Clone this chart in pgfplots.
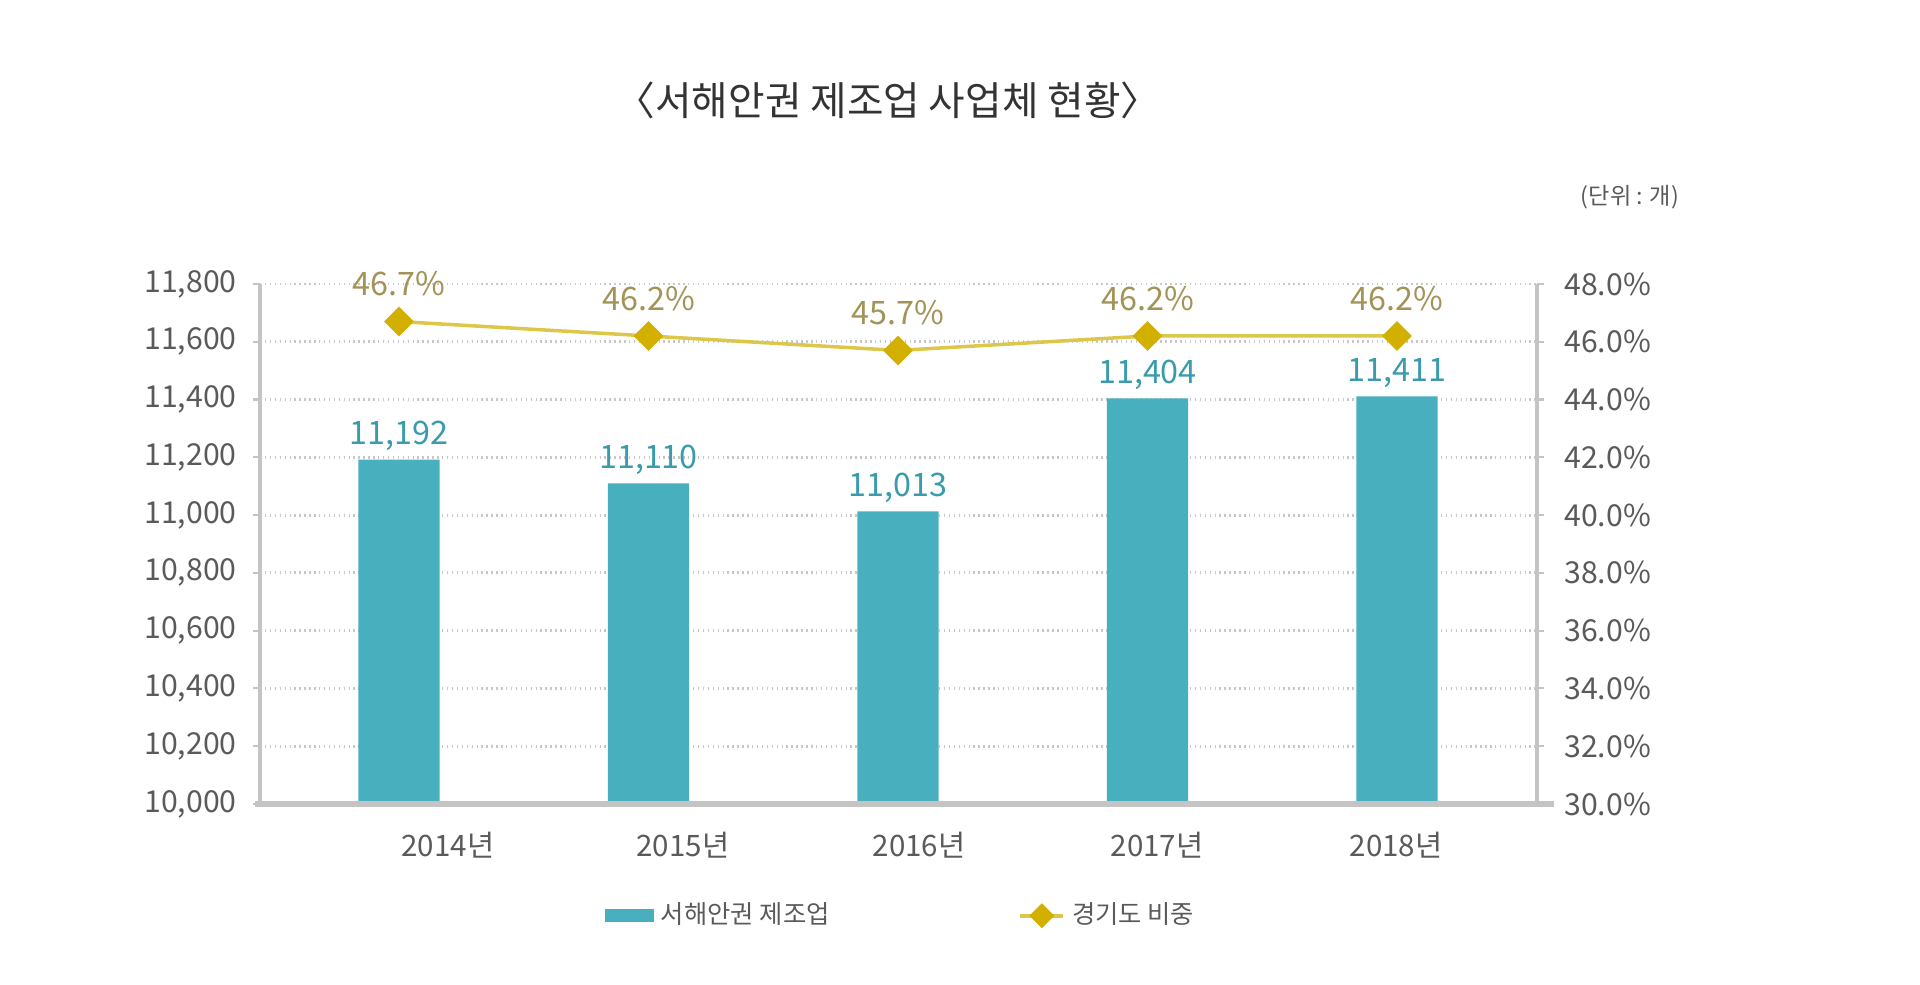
\documentclass[border=0pt]{standalone}
\usepackage{fontspec}
\setmainfont{Noto Sans CJK KR}
\usepackage{pgfplots}
\usepackage{pgfplotstable}
\pgfplotsset{compat=1.18}

\definecolor{barteal}{HTML}{48AFBF}
\definecolor{lblteal}{HTML}{3A9BAC}
\definecolor{gold}{HTML}{D3B000}
\definecolor{goldline}{HTML}{DCC74A}
\definecolor{pctlbl}{HTML}{A39358}
\definecolor{axgray}{HTML}{C4C4C4}
\definecolor{gridgray}{HTML}{C8C8C8}
\definecolor{txtgray}{HTML}{5A5A5A}

% x = category position
\pgfplotstableread{
x count share
0 11192 46.7
1 11110 46.2
2 11013 45.7
3 11404 46.2
4 11411 46.2
}\sites

\begin{document}
\begin{tikzpicture}
  \path[use as bounding box] (0,0) rectangle (19.2cm,9.85cm);

  \pgfplotsset{
    every axis/.append style={
      at={(2.60cm,1.81cm)}, anchor=south west,
      width=12.77cm, height=5.20cm, scale only axis,
      xmin=-0.557, xmax=4.561,
      /pgf/number format/assume math mode=true,
      /pgf/number format/1000 sep={,},
      scaled y ticks=false,
      tick align=outside, major tick length=0.07cm,
      tick style={axgray, line width=0.6pt},
      ticklabel style={text=txtgray, font=\fontsize{8.6}{10}\selectfont},
    },
  }

  % left axis: bars
  \begin{axis}[
      axis x line=none,
      axis y line*=left,
      y axis line style={axgray, line width=0.9pt},
      ymin=10000, ymax=11800,
      ytick={10000,10200,...,11800},
      ymajorgrids,
      grid style={gridgray, densely dotted, line width=0.8pt},
      yticklabel style={xshift=-0.04cm},
    ]
    \addplot[ybar, bar width=0.326, fill=barteal, draw=none,
      nodes near coords,
      every node near coord/.append style={text=lblteal,
        font=\fontsize{9.2}{10}\selectfont, yshift=-1pt}]
      table[x=x, y=count] {\sites};
  \end{axis}

  % bottom line and year labels
  \begin{axis}[
      axis y line=none,
      axis x line*=bottom,
      x axis line style={axgray, line width=1.6pt, shorten <=-0.05cm, shorten >=-0.17cm},
      ymin=0, ymax=1,
      xtick={0.196,1.138,2.084,3.038,3.996},
      xticklabels={2014년,2015년,2016년,2017년,2018년},
      major tick length=0pt,
      xticklabel style={text=txtgray, font=\fontsize{8.4}{10}\selectfont, yshift=-0.16cm},
    ]
    \addplot[draw=none] coordinates {(0,0)};
  \end{axis}

  % right axis: share line and legend
  \begin{axis}[
      axis x line=none,
      axis y line*=right,
      y axis line style={axgray, line width=0.9pt},
      ymin=30, ymax=48,
      ytick={30,32,...,48},
      yticklabel={\pgfmathprintnumber[fixed,fixed zerofill,precision=1]{\tick}\%},
      yticklabel style={xshift=0.08cm},
      legend columns=2,
      legend style={at={(0.261,-0.215)}, anchor=west, draw=none, fill=none,
        font=\fontsize{7.2}{9}\selectfont, text=txtgray,
        /tikz/every even column/.append style={column sep=1.82cm}},
    ]
    \addlegendimage{legend image code/.code={
        \fill[barteal] (0cm,-0.06cm) rectangle (0.48cm,0.065cm);}}
    \addlegendentry{서해안권 제조업}
    \addplot[goldline, line width=1pt,
      mark=square*, mark size=2.5pt,
      mark options={gold, fill=gold, rotate=45},
      nodes near coords={\pgfmathprintnumber[fixed,precision=1]{\pgfplotspointmeta}\%},
      point meta=explicit,
      every node near coord/.append style={text=pctlbl,
        font=\fontsize{9.2}{10}\selectfont, yshift=0.12cm},
      legend image code/.code={
        \draw[goldline, line width=1pt] (0cm,0cm) -- (0.43cm,0cm);
        \fill[gold] (0.215cm,0cm) ++(-0.1cm,0cm) -- ++(0.1cm,0.1cm) -- ++(0.1cm,-0.1cm) -- ++(-0.1cm,-0.1cm) -- cycle;}]
      table[x=x, y=share, meta=share] {\sites};
    \addlegendentry{경기도 비중}
  \end{axis}

  % title and unit note
  \node[text=black!80, font=\fontsize{11.3}{12}\selectfont] at (8.88cm,8.85cm)
    {〈서해안권 제조업 사업체 현황〉};
  \node[text=txtgray, font=\fontsize{6.6}{8}\selectfont] at (16.30cm,7.88cm)
    {(단위 : 개)};
\end{tikzpicture}
\end{document}
